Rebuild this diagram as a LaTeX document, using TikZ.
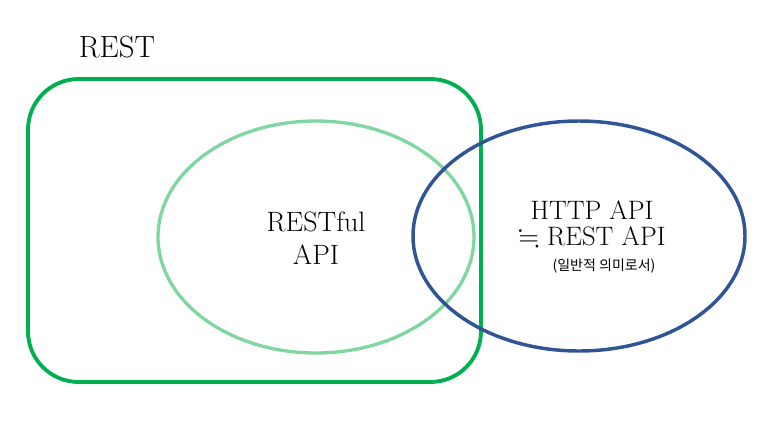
\documentclass[tikz,border=0pt]{standalone}
\usepackage{amssymb}
\usepackage{fontspec}
\usetikzlibrary{positioning}
\newfontfamily\kofont{Noto Sans CJK KR}
\definecolor{restgreen}{RGB}{0,176,80}
\definecolor{fulgreen}{RGB}{128,214,160}
\definecolor{httpblue}{RGB}{47,85,151}
\tikzset{label text/.style={font=\fontsize{21}{25}\selectfont, align=center, inner sep=0pt}}

\begin{document}
\begin{tikzpicture}[x=0.75pt, y=-0.75pt]
			%%%%% START %%%%%
			\useasboundingbox (0, 0) rectangle (784, 429);
			
			\draw[line width=2.9pt, color=restgreen, rounded corners=38pt] (28, 79) rectangle (481, 382);
			\draw[line width=2.5pt, color=fulgreen] (316, 237) ellipse (158 and 116);
			\draw[line width=2.6pt, color=httpblue] (579, 236) ellipse (166 and 115);
			
			\node[label text, anchor=base, font=\fontsize{23}{25}\selectfont] (rest) at (117, 57) {REST};
			\node[label text] (restful) at (316, 238) {RESTful\\API};
			\node[label text, font=\fontsize{20}{20}\selectfont] (http) at (592, 224) {HTTP API\\$\fallingdotseq$ REST API};
			\node[inner sep=0pt, font=\kofont\fontsize{10.5}{12}\selectfont, below=8pt of http.south, xshift=9pt] (meaning) {(일반적 의미로서)};
			
			%%%%% END %%%%%
		\end{tikzpicture}
\end{document}
